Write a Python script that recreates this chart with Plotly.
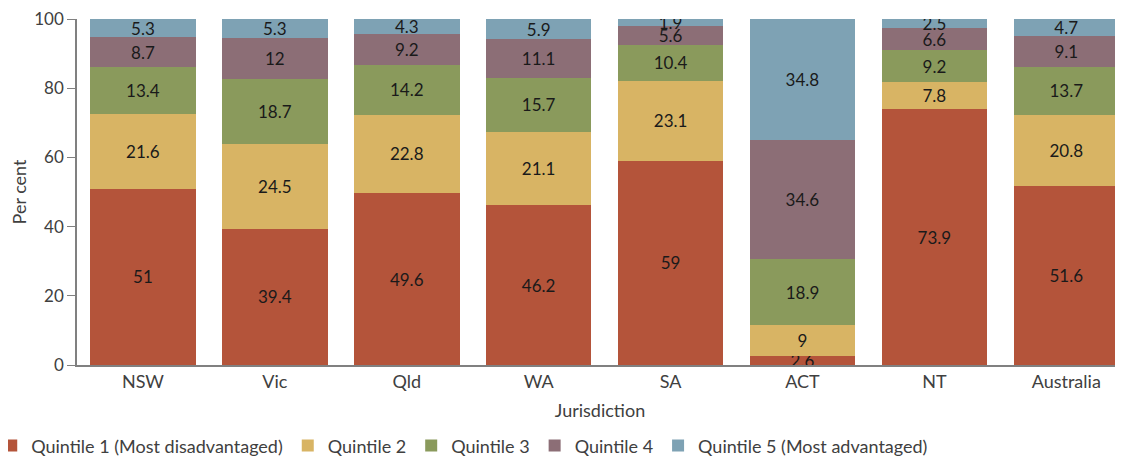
import plotly.graph_objects as go

jurisdictions = ["NSW", "Vic", "Qld", "WA", "SA", "ACT", "NT", "Australia"]

q1 = [51, 39.4, 49.6, 46.2, 59, 2.6, 73.9, 51.6]
q2 = [21.6, 24.5, 22.8, 21.1, 23.1, 9, 7.8, 20.8]
q3 = [13.4, 18.7, 14.2, 15.7, 10.4, 18.9, 9.2, 13.7]
q4 = [8.7, 12, 9.2, 11.1, 5.6, 34.6, 6.6, 9.1]
q5 = [5.3, 5.3, 4.3, 5.9, 1.9, 34.8, 2.5, 4.7]

series = [
    ("Quintile 1 (Most disadvantaged)", q1, "#B4543A"),
    ("Quintile 2", q2, "#D8B464"),
    ("Quintile 3", q3, "#8A9A5C"),
    ("Quintile 4", q4, "#8C6E76"),
    ("Quintile 5 (Most advantaged)", q5, "#7EA2B4"),
]

font = "Lato, Calibri, sans-serif"

fig = go.Figure()
for name, vals, color in series:
    fig.add_trace(go.Bar(
        x=jurisdictions, y=vals, name=name,
        marker=dict(color=color, line_width=0),
        text=[f"{v:g}" for v in vals],
        textposition="inside", insidetextanchor="middle",
        constraintext="none",
        textfont=dict(size=17, color="#1a1a1a", family=font),
    ))

# the page adds an 8px body margin, so the figure is sized 8px smaller
fig.update_layout(
    barmode="stack", bargap=0.2,
    width=1115, height=455,
    margin=dict(l=69, r=0, t=11, b=98, autoexpand=False),
    paper_bgcolor="white", plot_bgcolor="white",
    font=dict(family=font, size=18, color="#404040"),
    legend=dict(orientation="h", traceorder="normal",
                x=-0.082, xanchor="left", y=-0.18, yanchor="top",
                font=dict(size=18, color="#404040"), itemwidth=30),
)
fig.update_xaxes(
    range=[-0.5, 7.43], showline=True, linecolor="#808080", linewidth=1.5,
    ticks="", automargin=False,
    title=dict(text="Jurisdiction", standoff=13, font=dict(size=18)),
    tickfont=dict(size=18),
)
fig.update_yaxes(
    range=[0, 100], dtick=20, showgrid=False, zeroline=False,
    showline=True, linecolor="#808080", linewidth=1.5,
    ticks="outside", ticklen=8, tickcolor="#808080", automargin=False,
    ticklabeloverflow="allow",
    title=dict(text="Per cent", standoff=3, font=dict(size=18)),
    tickfont=dict(size=17),
)

fig.write_html("out.html")
